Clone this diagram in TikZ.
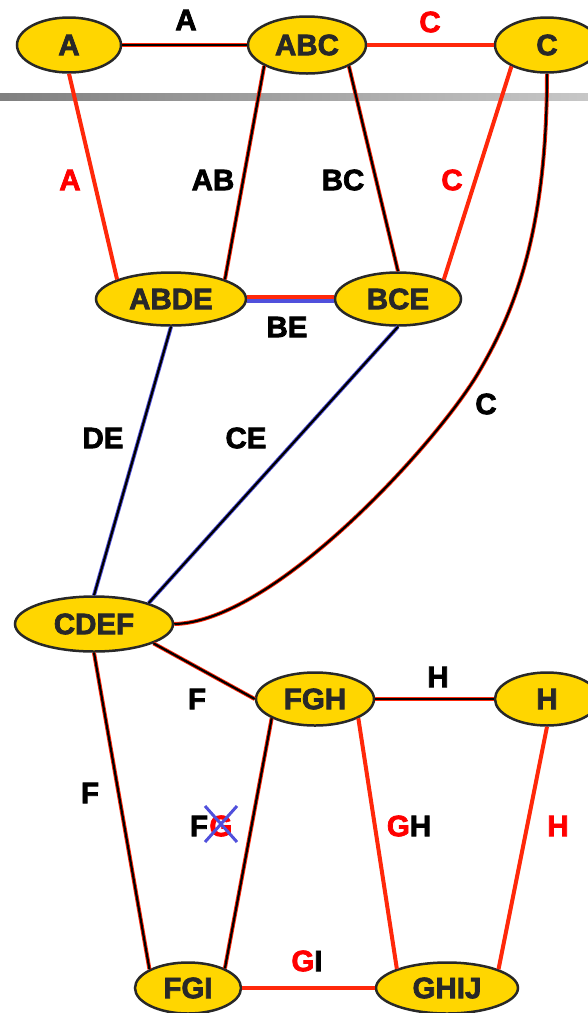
\documentclass[tikz,border=0pt]{standalone}
\usepackage{fontspec}
\newfontfamily\heavyfont{Liberation Sans Bold}[FakeBold=2.5]
\usetikzlibrary{shapes.geometric}

\definecolor{nodegold}{RGB}{255,214,0}
\definecolor{nodeline}{RGB}{40,40,40}
\definecolor{edgered}{RGB}{255,40,10}
\definecolor{edgeblue}{RGB}{80,80,220}
\definecolor{labred}{RGB}{255,0,0}

\begin{document}
\begin{tikzpicture}[x=1pt, y=-1pt,
    every node/.style={font=\heavyfont\fontsize{29.5}{32}\selectfont},
    clique/.style={ellipse, draw=nodeline, line width=2.5pt, fill=nodegold,
                   text=nodeline, inner sep=0pt},
    sep/.style={text=black, inner sep=1pt},
    rsep/.style={text=labred, inner sep=1pt},
    redge/.style={draw=edgered, line width=4pt},
    bredge/.style={draw=edgered, double=black, double distance=2.2pt, line width=0.9pt},
    blueedge/.style={draw=edgeblue, double=black, double distance=2.2pt, line width=0.9pt},
    cross/.style={draw=edgeblue, line width=3pt},
]
\useasboundingbox (0,0) rectangle (588,1013);

% grey rule under the top row
\shade[left color=black!50, right color=black!22] (0,93) rectangle (588,100);

% --- cliques -------------------------------------------------------
\node[clique, minimum width=104pt, minimum height=55pt] (A)    at (69,45)   {A};
\node[clique, minimum width=118pt, minimum height=57pt] (ABC)  at (307,45)  {ABC};
\node[clique, minimum width=104pt, minimum height=55pt] (C)    at (547,45)  {C};
\node[clique, minimum width=150pt, minimum height=53pt] (ABDE) at (171,299) {ABDE};
\node[clique, minimum width=126pt, minimum height=53pt] (BCE)  at (398,299) {BCE};
\node[clique, minimum width=158pt, minimum height=55pt] (CDEF) at (94,624)  {CDEF};
\node[clique, minimum width=118pt, minimum height=53pt] (FGH)  at (315,699) {FGH};
\node[clique, minimum width=104pt, minimum height=53pt] (H)    at (547,699) {H};
\node[clique, minimum width=106pt, minimum height=51pt] (FGI)  at (188,988) {FGI};
\node[clique, minimum width=142pt, minimum height=51pt] (GHIJ) at (447,988) {GHIJ};

% --- separators: top part --------------------------------------------
\draw[bredge] (A.east) -- (ABC.west);
\draw[redge]  (ABC.east) -- (C.west);
\draw[redge]  (A.south) -- (ABDE.160);
\draw[bredge] (ABC.206) -- (ABDE.20);
\draw[bredge] (ABC.333) -- (BCE.north);
\draw[redge]  (C.211) -- (BCE.23);
\draw[redge]  ([yshift=2.5pt]ABDE.east) -- ([yshift=2.5pt]BCE.west);
\draw[draw=edgeblue, line width=4pt] ([yshift=-1.5pt]ABDE.east) -- ([yshift=-1.5pt]BCE.west);
\draw[blueedge] (ABDE.south) -- (CDEF.north);
\draw[blueedge] (BCE.south) -- (CDEF.21);
\coordinate (cbend) at (480,370);
\draw[bredge] (C.south) .. controls (547,230) and (515,310) .. (cbend)
    .. controls (440,440) and (275,622) .. (CDEF.east);

% --- separators: bottom part -----------------------------------------
\draw[bredge] (CDEF.342) -- (FGH.west);
\draw[bredge] (FGH.east) -- (H.west);
\draw[bredge] (CDEF.south) -- (FGI.154);
\draw[bredge] (FGH.204) -- (FGI.28);
\draw[redge]  (FGH.336) -- (GHIJ.159);
\draw[redge]  (H.south) -- (GHIJ.20);
\draw[redge]  (FGI.east) -- (GHIJ.west);

% --- separator labels ------------------------------------------------
\node[sep]  (lA)    at (186,20)  {A};
\node[rsep] (lC)    at (430,22)  {C};
\node[rsep] (lA2)   at (70,180)  {A};
\node[sep]  (lAB)   at (213,180) {AB};
\node[sep]  (lBC)   at (343,180) {BC};
\node[rsep] (lC2)   at (452,180) {C};
\node[sep]  (lBE)   at (287,327) {BE};
\node[sep]  (lC3)   at (486,404) {C};
\node[sep]  (lDE)   at (103,438) {DE};
\node[sep]  (lCE)   at (246,438) {CE};
\node[sep]  (lF)    at (197,699) {F};
\node[sep]  (lH)    at (438,677) {H};
\node[sep]  (lF2)   at (90,793)  {F};
\node[sep]  (lFGf)  at (199,826) {F};
\node[rsep, inner sep=0pt, anchor=west] (lFGg) at (lFGf.east) {G};
\node[sep]  (lGH)   at (409,826) {\textcolor{labred}{G}H};
\node[rsep] (lH2)   at (558,826) {H};
\node[sep]  (lGI)   at (307,961) {\textcolor{labred}{G}I};

% G struck out
\draw[cross] (205,806) -- (237,842);
\draw[cross] (205,842) -- (237,806);

\end{tikzpicture}
\end{document}
